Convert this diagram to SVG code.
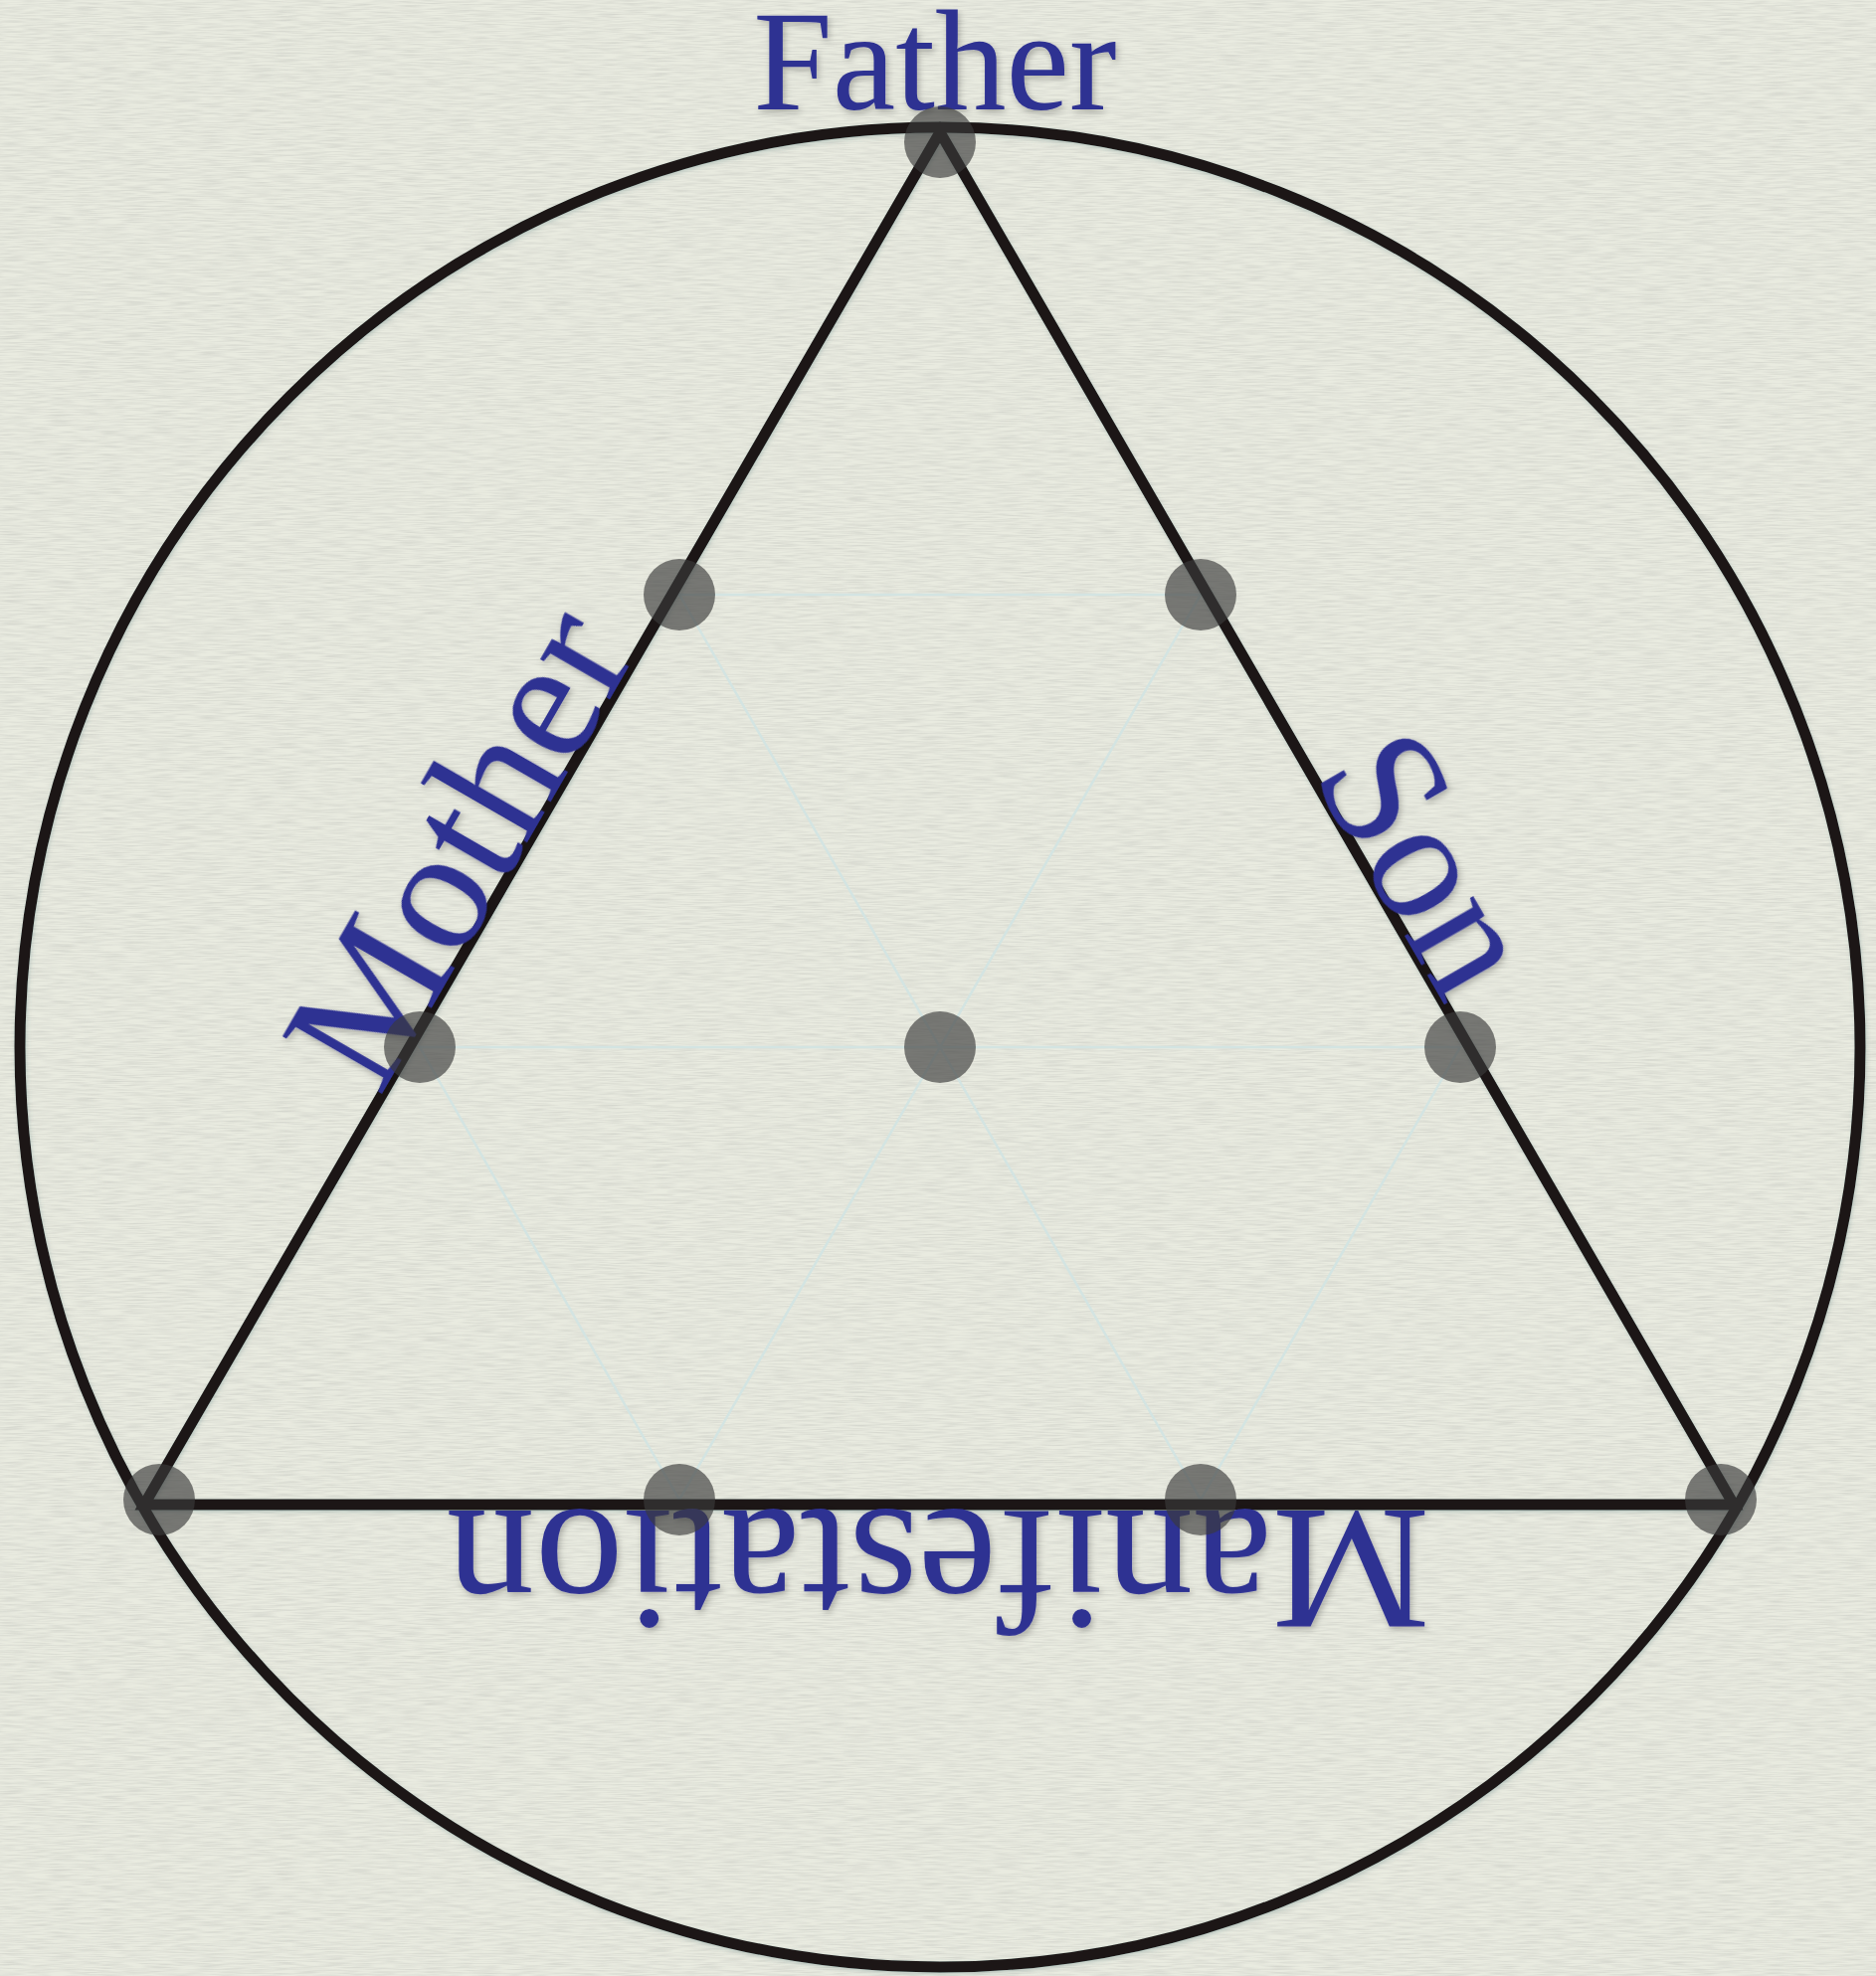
<svg xmlns="http://www.w3.org/2000/svg" width="1886" height="1987" viewBox="0 0 1886 1987">
  <defs>
    <filter id="paper" x="0" y="0" width="100%" height="100%">
      <feTurbulence type="fractalNoise" baseFrequency="0.04 0.7" numOctaves="2" seed="3" result="n"/>
      <feColorMatrix in="n" type="matrix" values="0 0 0 0 0.55  0 0 0 0 0.56  0 0 0 0 0.52  0 0 0 -1.6 1.05" result="m"/>
      <feComposite in="m" in2="SourceGraphic" operator="in"/>
    </filter>
    <filter id="shadow" x="-10%" y="-10%" width="120%" height="120%">
      <feDropShadow dx="2" dy="3" stdDeviation="3" flood-color="#000" flood-opacity="0.25"/>
    </filter>
    <filter id="lshadow" x="-5%" y="-5%" width="110%" height="110%">
      <feDropShadow dx="1" dy="2" stdDeviation="2" flood-color="#5a8080" flood-opacity="0.3"/>
    </filter>
  </defs>
  <style>
    .bg { fill: #e9ebe0; }
    .guide { fill: none; stroke: #d3e4e2; stroke-width: 2.5; }
    .edge { fill: none; stroke: #1b1919; stroke-width: 11; stroke-linejoin: miter; }
    .dot { fill: #3a3a3a; fill-opacity: 0.65; }
    .label { font-family: "Liberation Serif", "Times New Roman", serif; fill: #2e3192; }
  </style>

  <rect class="bg" x="0" y="0" width="1886" height="1987"/>
  <rect x="0" y="0" width="1886" height="1987" fill="#e9ebe0" filter="url(#paper)" opacity="0.6"/>

  <g id="connectors">
    <g id="guides">
      <polygon class="guide" points="683,598 1207,598 945,1053"/>
      <polygon class="guide" points="422,1053 945,1053 683,1508"/>
      <polygon class="guide" points="945,1053 1468,1053 1207,1508"/>
    </g>
    <g filter="url(#lshadow)">
      <circle id="outer-circle" class="edge" cx="945" cy="1053" r="925"/>
      <polygon id="triangle" class="edge" points="945,133 1743,1513 145,1513"/>
    </g>
  </g>

  <g id="labels" filter="url(#shadow)">
    <g id="label-father"><text class="label" x="940" y="110" font-size="143" text-anchor="middle">Father</text></g>
    <g id="label-mother"><text class="label" font-size="176" text-anchor="middle" transform="translate(511 880) rotate(-60)">Mother</text></g>
    <g id="label-son"><text class="label" font-size="173" text-anchor="middle" transform="translate(1386 896) rotate(60)">Son</text></g>
    <g id="label-manifestation"><text class="label" font-size="178" text-anchor="middle" transform="translate(943 1519) rotate(180)">Manifestation</text></g>
  </g>

  <g id="nodes">
    <g id="n1"><circle class="dot" cx="945" cy="143" r="36"/></g>
    <g id="n2"><circle class="dot" cx="683" cy="598" r="36"/></g>
    <g id="n3"><circle class="dot" cx="1207" cy="598" r="36"/></g>
    <g id="n4"><circle class="dot" cx="422" cy="1053" r="36"/></g>
    <g id="n5"><circle class="dot" cx="945" cy="1053" r="36"/></g>
    <g id="n6"><circle class="dot" cx="1468" cy="1053" r="36"/></g>
    <g id="n7"><circle class="dot" cx="160" cy="1508" r="36"/></g>
    <g id="n8"><circle class="dot" cx="683" cy="1508" r="36"/></g>
    <g id="n9"><circle class="dot" cx="1207" cy="1508" r="36"/></g>
    <g id="n10"><circle class="dot" cx="1730" cy="1508" r="36"/></g>
  </g>
</svg>
